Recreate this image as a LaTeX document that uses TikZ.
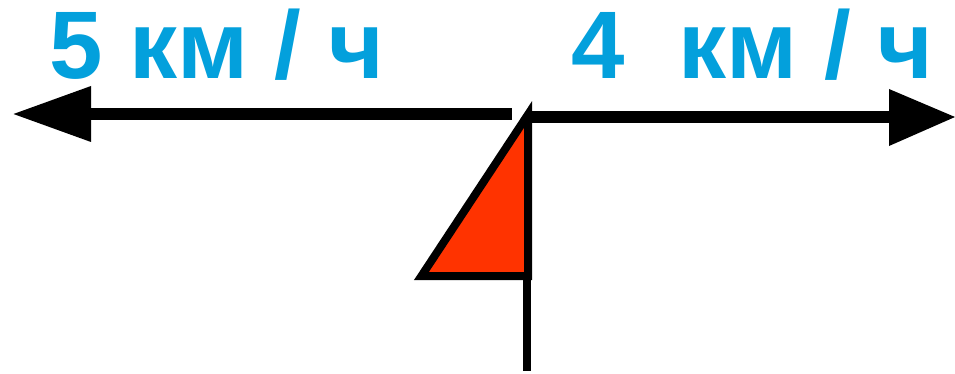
\documentclass[tikz,border=0pt]{standalone}
\usepackage{fontspec}
\setmainfont{Liberation Sans}
\definecolor{lbl}{RGB}{3,160,220}
\definecolor{flag}{RGB}{255,51,0}
\tikzset{px/.style={x=0.75pt,y=-0.75pt},
 lab/.style={text=lbl,font=\fontsize{72}{72}\selectfont\bfseries,inner sep=0pt,anchor=base west},
 thick line/.style={line width=9pt},
 thin line/.style={line width=6pt}}
\begin{document}
\begin{tikzpicture}[px]
\useasboundingbox (0,0) rectangle (955,374);
\fill[white] (0,0) rectangle (955,374);
\node[lab] (l5) at (49,78.5) {5 км / ч};
\node[lab] (l4) at (571.5,78.5) {4\ \ км / ч};
\coordinate (rstart) at (527,117);
\coordinate (rend) at (889,117);
\coordinate (lend) at (512,114);
\coordinate (lstart) at (91,114);
\coordinate (bot) at (527,371);
\coordinate (fa) at (528,114.5);
\coordinate (fb) at (528,276);
\coordinate (fc) at (421.4,276);
\draw[thin line,fill=flag,miter limit=10] (fa) -- (fb) -- (fc) -- cycle;
\draw[thick line] (rstart) -- (rend);
\draw[thick line] (lend) -- (lstart);
\draw[thin line] (527,276) -- (bot);
\fill (13.5,114) -- (91,86) -- (91,142) -- cycle;
\fill (955,117) -- (889,89) -- (889,146) -- cycle;
\end{tikzpicture}
\end{document}
